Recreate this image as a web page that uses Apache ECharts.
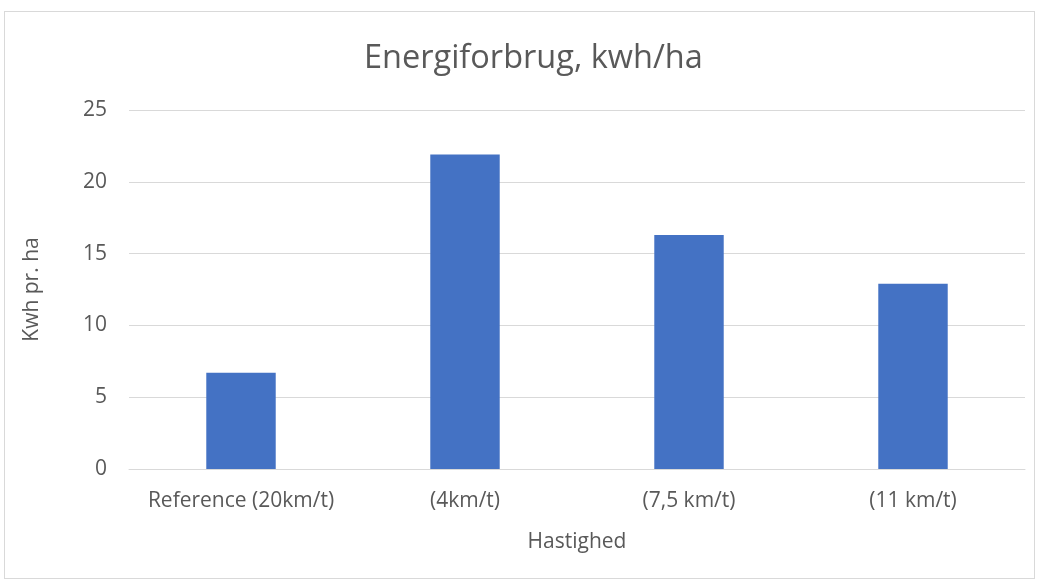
<!DOCTYPE html>
<html>
<head>
<meta charset="utf-8">
<script src="https://cdn.jsdelivr.net/npm/echarts@6/dist/echarts.min.js"></script>
<style>
  html, body { margin: 0; padding: 0; background: #ffffff; }
  #frame { position: absolute; left: 4px; top: 11px; width: 1031px; height: 568px; border: 1px solid #d9d9d9; box-sizing: border-box; }
  #chart { position: absolute; left: 0; top: 0; width: 1041px; height: 581px; }
</style>
</head>
<body>
<div id="frame"></div>
<div id="chart"></div>
<script>
// Energy use per hectare at different driving speeds
const categories = ['Reference (20km/t)', '(4km/t)', '(7,5 km/t)', '(11 km/t)'];
const energyKwh = [6.7, 21.9, 16.3, 12.9];
const yTicks = [0, 5, 10, 15, 20, 25];

const font = '"Open Sans", "Noto Sans", sans-serif';
const grey = '#595959';

const chart = echarts.init(document.getElementById('chart'), null, { renderer: 'canvas' });
chart.setOption({
  animation: false,
  backgroundColor: 'transparent',
  title: {
    text: 'Energiforbrug, kwh/ha',
    left: 359,
    top: 37,
    textStyle: { fontFamily: font, fontSize: 32.5, fontWeight: 'normal', color: grey }
  },
  grid: { left: 129, right: 16, top: 110, bottom: 112 },
  xAxis: {
    type: 'category',
    data: categories,
    name: 'Hastighed',
    nameLocation: 'middle',
    nameGap: 63,
    nameTextStyle: { fontFamily: font, fontSize: 21, color: grey },
    axisLine: { lineStyle: { color: '#d9d9d9', width: 1 } },
    axisTick: { show: false },
    axisLabel: { fontFamily: font, fontSize: 21, color: grey, margin: 22, interval: 0 }
  },
  yAxis: {
    type: 'value',
    min: yTicks[0],
    max: yTicks[yTicks.length - 1],
    interval: yTicks[1] - yTicks[0],
    name: 'Kwh pr. ha',
    nameLocation: 'middle',
    nameGap: 86,
    nameRotate: 90,
    nameTextStyle: { fontFamily: font, fontSize: 21, color: grey },
    axisLine: { show: false },
    axisTick: { show: false },
    splitLine: { lineStyle: { color: '#d9d9d9', width: 1 } },
    axisLabel: { fontFamily: font, fontSize: 21, color: grey, margin: 22 }
  },
  series: [{
    type: 'bar',
    data: energyKwh,
    barWidth: '31%',
    itemStyle: { color: '#4472c4' }
  }]
});
</script>
</body>
</html>
